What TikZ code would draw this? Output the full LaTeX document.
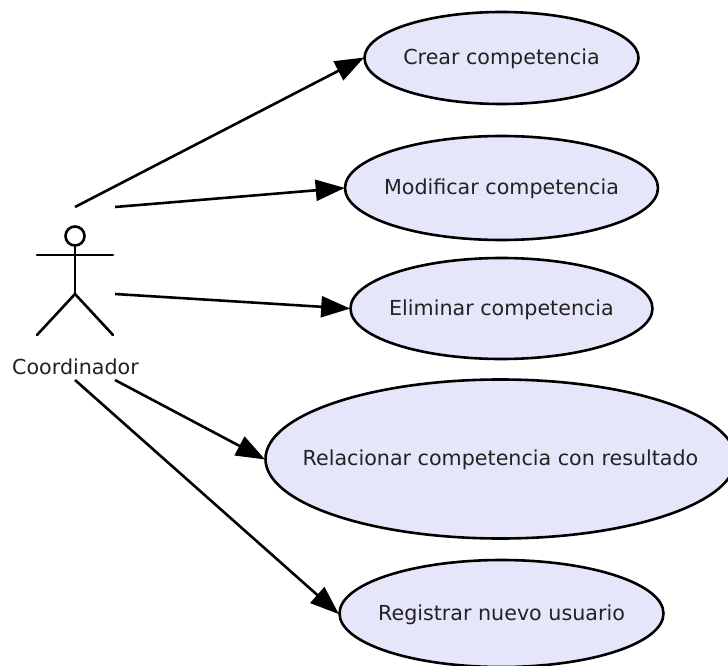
\documentclass[tikz,border=0pt]{standalone}
\usepackage{fontspec}
\setmainfont{DejaVu Sans}
\usetikzlibrary{shapes.geometric,arrows.meta}
\definecolor{uc}{HTML}{E6E6FA}
\definecolor{ink}{HTML}{222222}
\newcommand{\uclabel}[1]{\raisebox{-6.5pt}[0pt][0pt]{\makebox[0pt][c]{#1}}}
\tikzset{
 usecase/.style={ellipse,draw=black,line width=2.6pt,fill=uc,inner sep=0pt,text=ink,font=\fontsize{20.65pt}{24pt}\selectfont},
 conn/.style={line width=2.6pt,shorten >=-1pt,-{Triangle[length=29pt,width=21pt]}},
 stick/.style={line width=2.6pt,line cap=round}
}
\begin{document}
\begin{tikzpicture}[x=1pt,y=-1pt]
\useasboundingbox (0,0) rectangle (728,666);
\node[usecase,minimum width=274pt,minimum height=92pt] (c1) at (501.5,58) {\uclabel{Crear competencia}};
\node[usecase,minimum width=313pt,minimum height=104pt] (c2) at (501.5,188) {\uclabel{Modificar competencia}};
\node[usecase,minimum width=302pt,minimum height=101pt] (c3) at (501.5,308.5) {\uclabel{Eliminar competencia}};
\node[usecase,minimum width=470pt,minimum height=159pt] (c4) at (500.5,459) {\uclabel{Relacionar competencia con resultado}};
\node[usecase,minimum width=324pt,minimum height=107pt] (c5) at (501.5,613.5) {\uclabel{Registrar nuevo usuario}};
\node[font=\fontsize{20.65pt}{24pt}\selectfont,text=ink,inner sep=0pt] (lab) at (75.5,367) {Coordinador};
\coordinate (a1) at (75,207);
\coordinate (a2) at (115,207);
\coordinate (a3) at (115,294);
\coordinate (a4) at (115,380);
\coordinate (a5) at (75,380);
\draw[conn] (a1) -- (c1.west);
\draw[conn] (a2) -- (c2.west);
\draw[conn] (a3) -- (c3.west);
\draw[conn] (a4) -- (c4.west);
\draw[conn] (a5) -- (c5.west);
\node[circle,draw=black,line width=2.6pt,minimum size=19pt,inner sep=0pt] (head) at (75,236) {};
\coordinate (hip) at (75,294);
\coordinate (armL) at (37,255);
\coordinate (armR) at (113,255);
\coordinate (footL) at (37,335);
\coordinate (footR) at (113,335);
\draw[stick] (head.south) -- (hip);
\draw[stick] (armL) -- (armR);
\draw[stick] (footL) -- (hip) -- (footR);
\end{tikzpicture}
\end{document}
